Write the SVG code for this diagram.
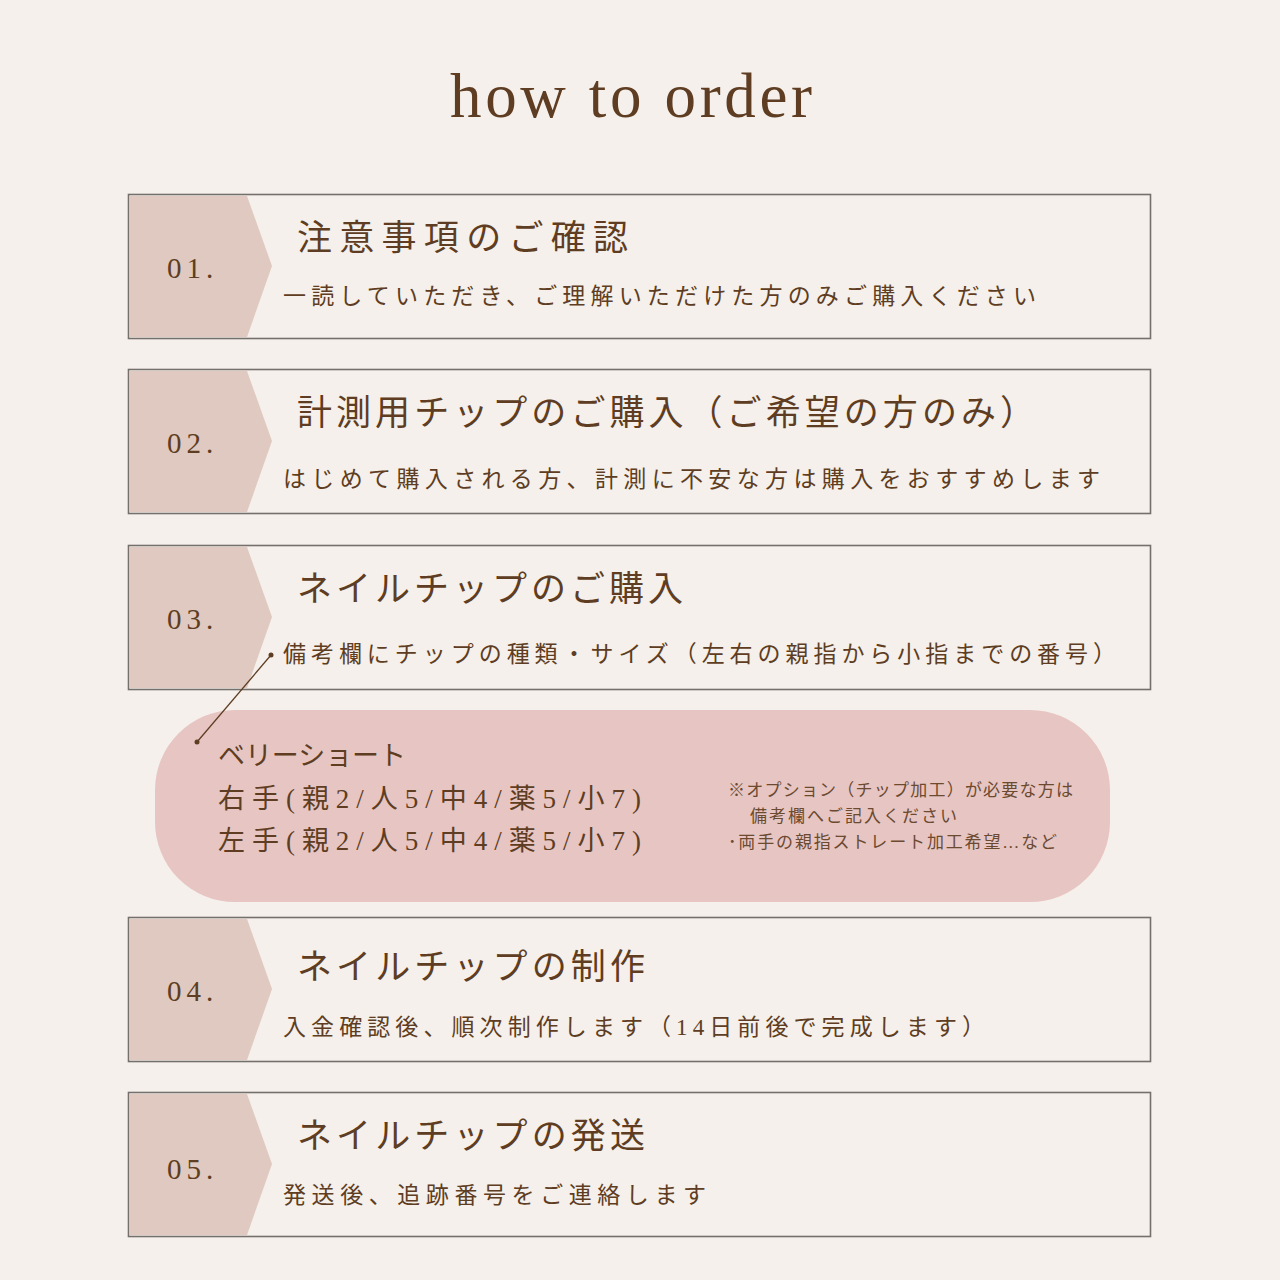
<svg xmlns="http://www.w3.org/2000/svg" width="1280" height="1280" viewBox="0 0 1280 1280">
<style>
.box{fill:#f5f0eb;stroke:#76706c;stroke-width:1.6}
.tab{fill:#dfc9c0}
.num{font-family:"Liberation Serif",serif;font-size:29px;fill:#5e3d22;letter-spacing:5px}
.h{font-family:"Liberation Serif","Noto Sans CJK JP",sans-serif;font-size:35px;fill:#5e3d22}
.s{font-family:"Liberation Serif","Noto Sans CJK JP",sans-serif;font-size:23px;fill:#5e3d22}
.p{font-family:"Liberation Serif","Noto Sans CJK JP",sans-serif;font-size:27px;fill:#5e3d22}
.n{font-family:"Liberation Serif","Noto Sans CJK JP",sans-serif;font-size:17px;fill:#6b4a30}
</style>
<rect width="1280" height="1280" fill="#f5f0eb"/>
<text x="450" y="117" font-family="Liberation Serif,serif" font-size="63" fill="#5e3d22" textLength="362" lengthAdjust="spacing">how to order</text>

<g id="step1">
<rect class="box" x="128.5" y="194.5" width="1022" height="144"/>
<polygon class="tab" points="130,196 247,196 272,266 247,337 130,337"/>
<text class="num" x="167" y="278">01.</text>
<text class="h" x="297" y="250" textLength="331" lengthAdjust="spacing">注意事項のご確認</text>
<text class="s" x="283" y="304" textLength="753" lengthAdjust="spacing">一読していただき、ご理解いただけた方のみご購入ください</text>
</g>

<g id="step2">
<rect class="box" x="128.5" y="369.5" width="1022" height="144"/>
<polygon class="tab" points="130,371 247,371 272,441 247,512 130,512"/>
<text class="num" x="167" y="453">02.</text>
<text class="h" x="297" y="425" textLength="738" lengthAdjust="spacing">計測用チップのご購入（ご希望の方のみ）</text>
<text class="s" x="283" y="487" textLength="817" lengthAdjust="spacing">はじめて購入される方、計測に不安な方は購入をおすすめします</text>
</g>

<g id="step3">
<rect class="box" x="128.5" y="545.5" width="1022" height="144"/>
<polygon class="tab" points="130,547 247,547 272,617 247,688 130,688"/>
<text class="num" x="167" y="629">03.</text>
<text class="h" x="297" y="601" textLength="386" lengthAdjust="spacing">ネイルチップのご購入</text>
<text class="s" x="283" y="662" textLength="833" lengthAdjust="spacing">備考欄にチップの種類・サイズ（左右の親指から小指までの番号）</text>
</g>

<g id="size-note">
<rect x="155" y="710" width="955" height="192" rx="80" fill="#e7c5c3"/>
<text class="p" x="218" y="765" font-size="26" textLength="188" lengthAdjust="spacing">ベリーショート</text>
<text class="p" x="218" y="808" textLength="423" lengthAdjust="spacing">右手(親2/人5/中4/薬5/小7)</text>
<text class="p" x="218" y="850" textLength="423" lengthAdjust="spacing">左手(親2/人5/中4/薬5/小7)</text>
<text class="n" x="728" y="796" textLength="345" lengthAdjust="spacing">※オプション（チップ加工）が必要な方は</text>
<text class="n" x="750" y="822" textLength="207" lengthAdjust="spacing">備考欄へご記入ください</text>
<text class="n" x="728" y="848" textLength="329" lengthAdjust="spacing">･両手の親指ストレート加工希望…など</text>
</g>

<g id="connectors">
<line x1="271" y1="655" x2="197" y2="742" stroke="#5e3d22" stroke-width="1.3"/>
<circle cx="271" cy="655" r="2.5" fill="#5e3d22"/>
<circle cx="197" cy="742" r="2.5" fill="#5e3d22"/>
</g>

<g id="step4">
<rect class="box" x="128.5" y="917.5" width="1022" height="144"/>
<polygon class="tab" points="130,919 247,919 272,989 247,1060 130,1060"/>
<text class="num" x="167" y="1001">04.</text>
<text class="h" x="297" y="979" textLength="348" lengthAdjust="spacing">ネイルチップの制作</text>
<text class="s" x="283" y="1035" textLength="702" lengthAdjust="spacing">入金確認後、順次制作します（14日前後で完成します）</text>
</g>

<g id="step5">
<rect class="box" x="128.5" y="1092.5" width="1022" height="144"/>
<polygon class="tab" points="130,1094 247,1094 272,1164 247,1235 130,1235"/>
<text class="num" x="167" y="1179">05.</text>
<text class="h" x="297" y="1148" textLength="348" lengthAdjust="spacing">ネイルチップの発送</text>
<text class="s" x="283" y="1203" textLength="423" lengthAdjust="spacing">発送後、追跡番号をご連絡します</text>
</g>
</svg>
